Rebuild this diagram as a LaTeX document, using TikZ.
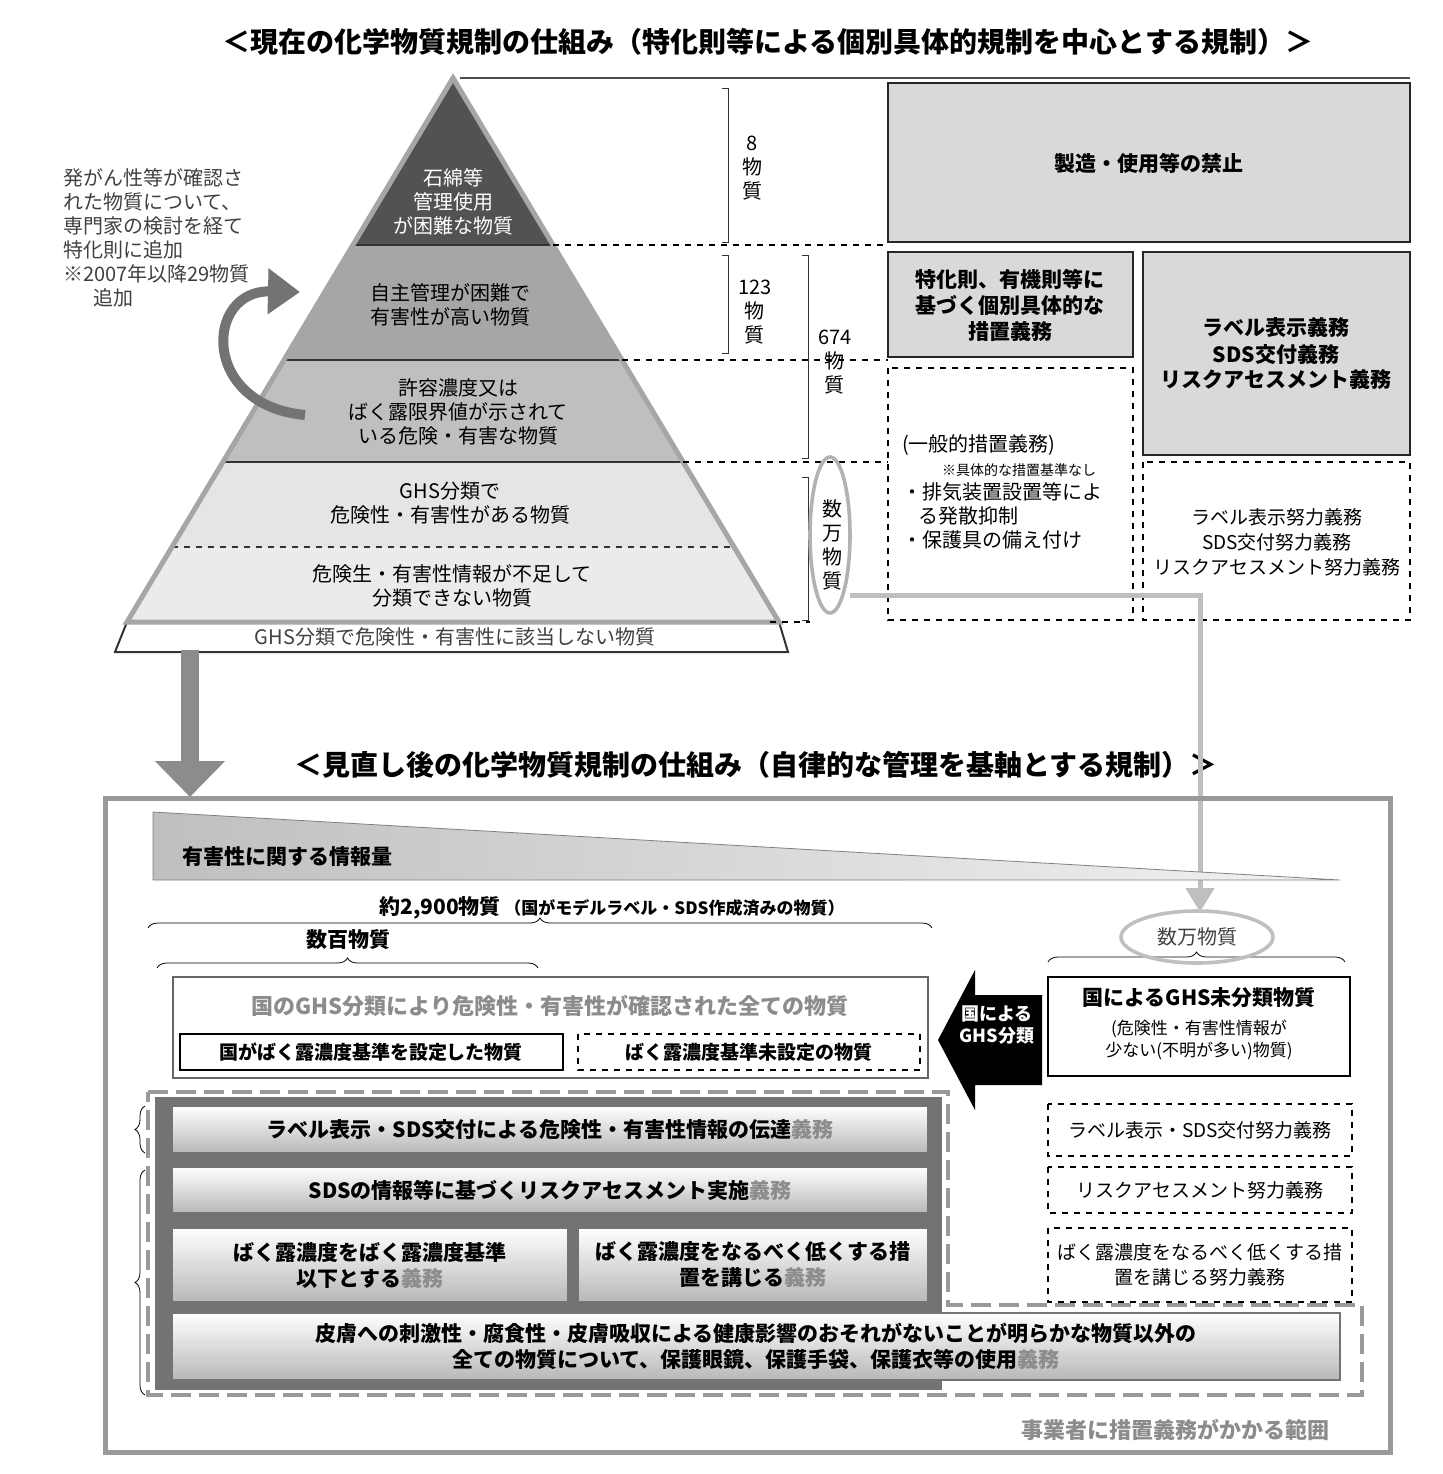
\documentclass[tikz,border=0pt]{standalone}
\usepackage{fontspec}
\setmainfont{Noto Sans CJK JP}
\usetikzlibrary{arrows.meta,shapes.geometric,decorations.pathreplacing}
\begin{document}
\begin{tikzpicture}[x=0.5pt,y=-0.5pt,
 txt/.style={font=\fontsize{10}{12}\selectfont,align=center},
 btxt/.style={font=\fontsize{10.5}{13}\selectfont\bfseries,align=center},
 gbox/.style={draw=black!85,line width=1.2pt,fill=black!15},
 dbox/.style={draw=black,dashed,line width=0.8pt},
 bar/.style={draw=black!55,line width=0.8pt,top color=white,bottom color=black!28},
 br/.style={decorate,decoration={brace,amplitude=5pt}},
 dl/.style={dashed,line width=0.6pt}]
\useasboundingbox (0,0) rectangle (1442,1474);
% titles
\node[font=\fontsize{14}{16}\selectfont\bfseries] (t1) at (768,42) {＜現在の化学物質規制の仕組み（特化則等による個別具体的規制を中心とする規制）＞};
\node[font=\fontsize{14}{16}\selectfont\bfseries] (t2) at (756,765) {＜見直し後の化学物質規制の仕組み（自律的な管理を基軸とする規制）＞};
% pyramid
\draw[black!80,line width=1pt,fill=white] (115,652)--(127,622)--(779,622)--(788,652)--cycle;
\node[txt,text=black!75] (b0) at (455,637) {GHS分類で危険性・有害性に該当しない物質};
\fill[black!8] (127,622)--(171.6,547)--(734.4,547)--(779,622)--cycle;
\fill[black!10] (171.6,547)--(222.6,462)--(683.4,462)--(734.4,547)--cycle;
\fill[black!25] (222.6,462)--(283.8,360)--(622.2,360)--(683.4,462)--cycle;
\fill[black!35] (283.8,360)--(352.8,245)--(553.2,245)--(622.2,360)--cycle;
\fill[black!68] (352.8,245)--(453,78)--(553.2,245)--cycle;
\draw[black!80,line width=1pt] (222.6,462)--(683.4,462) (283.8,360)--(622.2,360) (352.8,245)--(553.2,245);
\draw[dashed,black!80,line width=1pt] (171.6,547)--(734.4,547);
\draw[black!35,line width=2.5pt] (127,622)--(453,78)--(779,622)--cycle;
\node[txt,text=white] (p1) at (453,202) {石綿等\\管理使用\\が困難な物質};
\node[txt] (p2) at (450,305) {自主管理が困難で\\有害性が高い物質};
\node[txt] (p3) at (458,412) {許容濃度又は\\ばく露限界値が示されて\\いる危険・有害な物質};
\node[txt] (p4) at (450,503) {GHS分類で\\危険性・有害性がある物質};
\node[txt] (p5) at (452,586) {危険生・有害性情報が不足して\\分類できない物質};
\node[txt,align=left,text=black!75,anchor=north west] (lt) at (56,162) {発がん性等が確認さ\\れた物質について、\\専門家の検討を経て\\特化則に追加\\※2007年以降29物質\\\hspace{1.5em}追加};
\draw[black!55,line width=5pt,-{Triangle[length=16pt,width=22pt]}] (305,415) .. controls (200,405) and (205,290) .. (300,292);
% lines right of pyramid
\draw[black!70,line width=0.6pt] (460,78)--(1410,78);
\draw[dl] (553,245)--(888,245) (622,360)--(888,360) (683,462)--(888,462) (770,622)--(810,622);
\draw[black!80] (722,88)--(728,88)--(728,242)--(722,242) (722,255)--(728,255)--(728,353)--(722,353)
 (802,255)--(808,255)--(808,458)--(802,458) (802,477)--(808,477)--(808,620)--(802,620);
\node[txt,text width=1.2em] (n8) at (752,168) {8\\物\\質};
\node[txt,text width=1.6em] (n123) at (754,312) {123\\物\\質};
\node[txt,text width=1.6em] (n674) at (834,362) {674\\物\\質};
\node[txt,text width=1.2em] (nman) at (832,545) {数\\万\\物\\質};
\draw[black!30,line width=1.8pt] (830,535) ellipse (20 and 78);
% right boxes
\draw[gbox] (888,83) rectangle (1410,242);
\node[btxt] (r1) at (1149,163) {製造・使用等の禁止};
\draw[gbox] (888,252) rectangle (1133,357);
\node[btxt] (r2) at (1010,305) {特化則、有機則等に\\基づく個別具体的な\\措置義務};
\draw[gbox] (1143,252) rectangle (1410,455);
\node[btxt] (r3) at (1276,354) {ラベル表示義務\\SDS交付義務\\リスクアセスメント義務};
\draw[dbox] (888,368) rectangle (1133,620);
\node[txt,align=left,anchor=north west] (r4) at (895,428) {(一般的措置義務)\\\hspace{2em}{\fontsize{7}{8}\selectfont ※具体的な措置基準なし}\\・排気装置設置等によ\\\hspace{0.8em}る発散抑制\\・保護具の備え付け};
\draw[dbox] (1143,462) rectangle (1410,620);
\node[txt,font=\fontsize{9.5}{12.5}\selectfont] (r5) at (1277,542) {ラベル表示努力義務\\SDS交付努力義務\\リスクアセスメント努力義務};
% arrows between sections
\draw[black!45,line width=9pt,-{Triangle[length=18pt,width=34pt]}] (190,650)--(190,797);
\coordinate (c1) at (1200,595);
\draw[black!25,line width=2.5pt,-{Triangle[length=12pt,width=14pt]}] (850,595)--(c1)--(1200,912);
% lower frame
\draw[black!40,line width=2.5pt] (105,798) rectangle (1390,1452);
\shade[left color=black!25,right color=black!5,draw=black!50] (153,812)--(153,880)--(1340,880)--cycle;
\node[btxt,anchor=west] (inf) at (175,857) {有害性に関する情報量};
\draw[br] (148,928)--(932,928);
\node[btxt] (n2900) at (612,908) {約2,900物質\,{\fontsize{8.5}{10}\selectfont（国がモデルラベル・SDS作成済みの物質）}};
\draw[br] (157,968)--(538,968);
\node[btxt] (nhyaku) at (348,940) {数百物質};
\draw[br] (1048,962)--(1345,962);
\draw[black!25,line width=1.8pt] (1197,937) ellipse (76 and 26);
\node[txt,text=black!75] (nman2) at (1197,937) {数万物質};
\draw[black!60,line width=0.8pt] (173,977) rectangle (928,1078);
\node[font=\fontsize{11}{13}\selectfont\bfseries,text=black!45] (all) at (550,1006) {国のGHS分類により危険性・有害性が確認された全ての物質};
\draw[line width=1.2pt] (180,1034) rectangle (563,1070);
\node[btxt,font=\fontsize{9.5}{11}\selectfont\bfseries] (s1) at (371,1052) {国がばく露濃度基準を設定した物質};
\draw[dbox] (578,1034) rectangle (920,1070);
\node[btxt,font=\fontsize{9.5}{11}\selectfont\bfseries] (s2) at (749,1052) {ばく露濃度基準未設定の物質};
\draw[line width=1.4pt] (1048,977) rectangle (1350,1076);
\node[btxt] (u1) at (1199,998) {国によるGHS未分類物質};
\node[txt,font=\fontsize{8.5}{11}\selectfont] (u2) at (1199,1040) {(危険性・有害性情報が\\少ない(不明が多い)物質)};
\fill (1042,995)--(975,995)--(975,970)--(938,1040)--(975,1110)--(975,1085)--(1042,1085)--cycle;
\node[btxt,text=white,font=\fontsize{9}{11}\selectfont\bfseries] (ga) at (997,1025) {国による\\GHS分類};
% range
\fill[black!55] (155,1097) rectangle (942,1390);
\draw[black!40,line width=2pt,dash pattern=on 10pt off 4pt] (148,1092)--(948,1092)--(948,1305)--(1362,1305)--(1362,1395)--(148,1395)--cycle;
\def\g#1{\textcolor{black!45}{#1}}
\draw[bar] (172,1106) rectangle (928,1153);
\node[btxt] (b1) at (550,1130) {ラベル表示・SDS交付による危険性・有害性情報の伝達\g{義務}};
\draw[bar] (172,1167) rectangle (928,1213);
\node[btxt] (b2) at (550,1190) {SDSの情報等に基づくリスクアセスメント実施\g{義務}};
\draw[bar] (172,1228) rectangle (568,1302);
\node[btxt] (b3) at (370,1265) {ばく露濃度をばく露濃度基準\\以下とする\g{義務}};
\draw[bar] (578,1228) rectangle (928,1302);
\node[btxt] (b4) at (753,1265) {ばく露濃度をなるべく低くする措\\置を講じる\g{義務}};
\draw[bar] (172,1313) rectangle (1340,1380);
\node[btxt] (b5) at (756,1346) {皮膚への刺激性・腐食性・皮膚吸収による健康影響のおそれがないことが明らかな物質以外の\\全ての物質について、保護眼鏡、保護手袋、保護衣等の使用\g{義務}};
\draw[dbox] (1048,1104) rectangle (1352,1156);
\node[txt,font=\fontsize{9.5}{12}\selectfont] (e1) at (1200,1130) {ラベル表示・SDS交付努力義務};
\draw[dbox] (1048,1167) rectangle (1352,1213);
\node[txt,font=\fontsize{9.5}{12}\selectfont] (e2) at (1200,1190) {リスクアセスメント努力義務};
\draw[dbox] (1048,1228) rectangle (1352,1302);
\node[txt,font=\fontsize{9.5}{12.5}\selectfont] (e3) at (1200,1265) {ばく露濃度をなるべく低くする措\\置を講じる努力義務};
\draw[br] (145,1153)--(145,1106);
\draw[br] (145,1395)--(145,1170);
\node[font=\fontsize{11}{13}\selectfont\bfseries,text=black!45] (rng) at (1175,1430) {事業者に措置義務がかかる範囲};
\end{tikzpicture}
\end{document}
